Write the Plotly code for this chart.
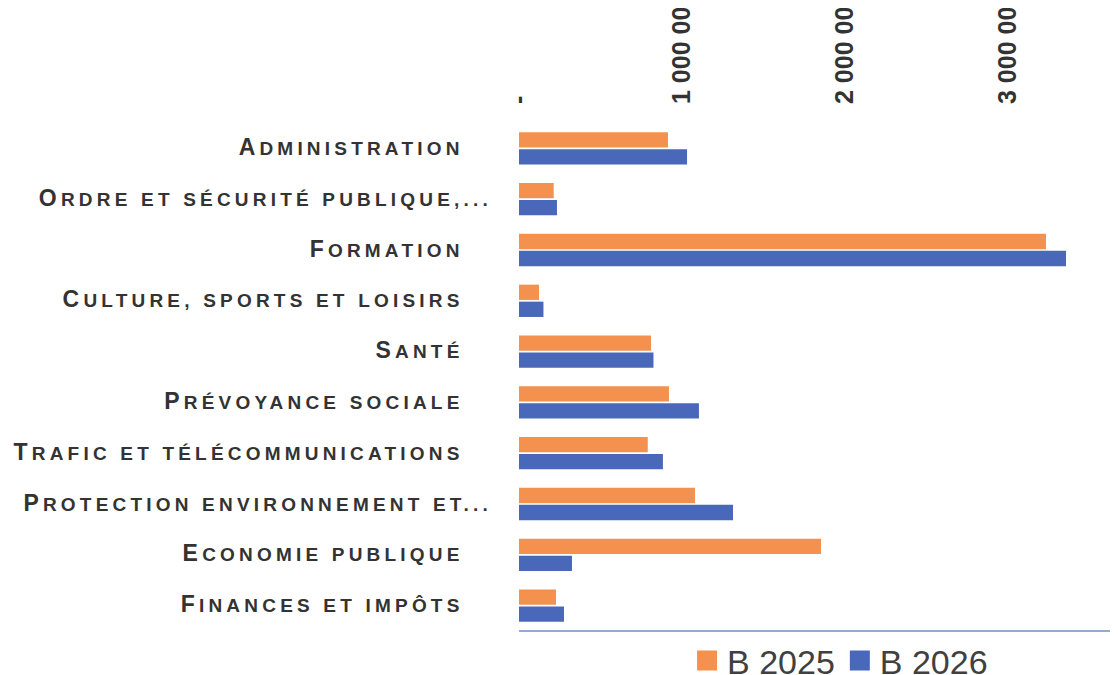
import plotly.graph_objects as go

categories = ['Administration', 'Ordre et sécurité publique,...', 'Formation',
              'Culture, sports et loisirs', 'Santé', 'Prévoyance sociale',
              'Trafic et télécommunications', 'Protection environnement et...',
              'Economie publique', 'Finances et impôts']
budget_2025 = [914000, 213000, 3233000, 123000, 810000, 920000, 790000, 1080000, 1853000, 227000]
budget_2026 = [1031000, 233000, 3356000, 150000, 825000, 1104000, 883000, 1313000, 325000, 276000]
tick_values = [0, 1000000, 2000000, 3000000]
tick_labels = ['-', '1 000 000', '2 000 000', '3 000 000']
series_names = ['B 2025', 'B 2026']

color_2025 = '#F4914F'
color_2026 = '#4A68B9'
color_text = '#333333'
spacing = 'letter-spacing:4.2px'


def small_caps(label):
    # petites capitales : majuscules en grand, minuscules en majuscules plus petites
    runs = []
    for ch in label:
        big = ch.isupper()
        if runs and runs[-1][0] == big:
            runs[-1][1] += ch
        else:
            runs.append([big, ch])
    html = ''
    for big, text in runs:
        size = 23 if big else 19
        html += f'<span style="font-size:{size}px;{spacing}">{text.upper()}</span>'
    if not label.endswith('...'):
        # les points de suspension dépassent à droite dans l'original
        html += f'<span style="font-size:19px;{spacing};color:rgba(0,0,0,0)">...</span>'
    return html


labels = [small_caps(c) for c in categories]

fig = go.Figure()
fig.add_trace(go.Bar(name=series_names[0], y=labels, x=budget_2025, orientation='h',
                     marker=dict(color=color_2025), legendgroup='b25', showlegend=False))
fig.add_trace(go.Bar(name=series_names[1], y=labels, x=budget_2026, orientation='h',
                     marker=dict(color=color_2026), legendgroup='b26', showlegend=False))
# entrées de légende avec des carrés plus grands
for name, color, group in zip(series_names, [color_2025, color_2026], ['b25', 'b26']):
    fig.add_trace(go.Scatter(name=name, x=[None], y=[None], mode='markers', legendgroup=group,
                             marker=dict(symbol='square', size=16, color=color,
                                         line=dict(color=color, width=4))))

fig.update_layout(width=1110, height=667, autosize=False,
                  template='none',
                  paper_bgcolor='white', plot_bgcolor='white',
                  margin=dict(l=511, r=0, t=115, b=44, autoexpand=False),
                  barmode='group', bargap=0.33, bargroupgap=0.1,
                  font=dict(family='Liberation Sans, Arial, sans-serif', color=color_text),
                  legend=dict(orientation='h', x=0.536, xanchor='center',
                              y=-0.059, yanchor='middle', itemwidth=30,
                              bgcolor='rgba(0,0,0,0)',
                              font=dict(size=34, color='#404040'),
                              itemclick=False))
fig.update_xaxes(side='top', range=[0, 3675000], tickvals=tick_values, ticktext=tick_labels,
                 tickangle=-90, tickfont=dict(size=25, weight='bold', color=color_text),
                 showgrid=False, zeroline=False, showline=False, ticks='',
                 ticklabelstandoff=18, automargin=False)
fig.update_yaxes(autorange='reversed', tickfont=dict(size=19, weight='bold', color=color_text),
                 showgrid=False, zeroline=False, showline=False, ticks='',
                 ticklabelstandoff=26, automargin=False)
fig.add_shape(type='line', xref='paper', yref='paper', x0=0, x1=1, y0=0, y1=0,
              line=dict(color='#8DADD4', width=2))

fig.write_html('out.html')
